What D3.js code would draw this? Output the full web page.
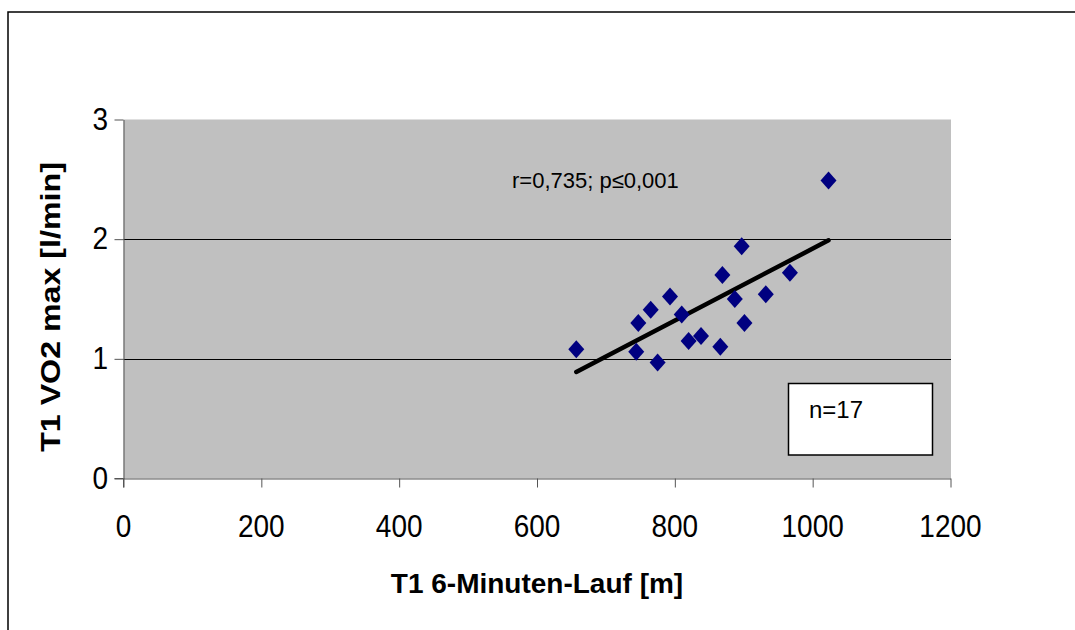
<!DOCTYPE html>
<html>
<head>
<meta charset="utf-8">
<script src="https://cdn.jsdelivr.net/npm/d3@7"></script>
<style>
  html, body { margin: 0; padding: 0; background: #fff; }
  svg { display: block; }
  text { font-family: "Liberation Sans", Arial, sans-serif; fill: #000; }
</style>
</head>
<body>
<svg id="chart" width="1075" height="630"></svg>
<script>
// 6-minute run distance (m) vs. VO2 max (l/min), first test
const runDistance = [657, 744, 747, 765, 775, 793, 810, 820, 838, 866, 869, 887, 897, 901, 932, 967, 1023];
const vo2max      = [1.08, 1.06, 1.30, 1.41, 0.97, 1.52, 1.37, 1.15, 1.19, 1.10, 1.70, 1.50, 1.94, 1.30, 1.54, 1.72, 2.49];

// fitted regression line, drawn between the smallest and largest distance
const trendX = [657, 1023];
const trendY = [0.89, 1.99];

const xTicks = [0, 200, 400, 600, 800, 1000, 1200];
const yTicks = [0, 1, 2, 3];
const gridValues = [1, 2];

const xTitle = "T1 6-Minuten-Lauf [m]";
const yTitle = "T1 VO2 max [l/min]";
const statsLabel = "r=0,735; p\u22640,001";
const nLabel = "n=17";

const svg = d3.select("#chart");
const plot = { left: 123.5, right: 951, top: 119.5, bottom: 478.5 };

const x = d3.scaleLinear().domain([0, 1200]).range([plot.left, 950.5]);
const y = d3.scaleLinear().domain([0, 3]).range([plot.bottom, plot.top]);

// outer frame (top and left edges)
svg.append("path")
  .attr("d", "M8,630 L8,12 L1075,12")
  .attr("fill", "none").attr("stroke", "#000").attr("stroke-width", 1.5);

// plot background
svg.append("rect")
  .attr("x", plot.left).attr("y", plot.top)
  .attr("width", plot.right - plot.left).attr("height", plot.bottom - plot.top)
  .attr("fill", "#c0c0c0");

// horizontal gridlines
svg.append("g").selectAll("line").data(gridValues).join("line")
  .attr("x1", plot.left).attr("x2", plot.right)
  .attr("y1", d => Math.round(y(d)) + 0.5).attr("y2", d => Math.round(y(d)) + 0.5)
  .attr("stroke", "#000").attr("stroke-width", 1);

// axes
const xAxis = svg.append("g")
  .attr("transform", `translate(0,${plot.bottom})`)
  .call(d3.axisBottom(x).tickValues(xTicks).tickSize(9).tickSizeOuter(0).tickFormat(""));
const yAxis = svg.append("g")
  .attr("transform", `translate(${plot.left},0)`)
  .call(d3.axisLeft(y).tickValues(yTicks).tickSize(9).tickSizeOuter(0).tickFormat(""));
[xAxis, yAxis].forEach(g => {
  g.select(".domain").attr("stroke", "#555");
  g.selectAll(".tick line").attr("stroke", "#555");
});
// extend axis lines past the crossing like the tick marks
svg.append("line").attr("x1", plot.left - 9).attr("x2", plot.left)
  .attr("y1", plot.bottom).attr("y2", plot.bottom).attr("stroke", "#555");
svg.append("line").attr("x1", plot.left).attr("x2", plot.left)
  .attr("y1", plot.bottom).attr("y2", plot.bottom + 9).attr("stroke", "#555");

// tick labels
svg.append("g").selectAll("text").data(xTicks).join("text")
  .attr("transform", d => `translate(${x(d)},537) scale(1,1.15)`)
  .attr("text-anchor", "middle")
  .attr("font-size", 28)
  .text(d => d);
svg.append("g").selectAll("text").data(yTicks).join("text")
  .attr("transform", d => `translate(108,${y(d) + 10}) scale(1,1.15)`)
  .attr("text-anchor", "end")
  .attr("font-size", 28)
  .text(d => d);

// axis titles
svg.append("text")
  .attr("x", 537).attr("y", 593)
  .attr("text-anchor", "middle")
  .attr("font-size", 28).attr("font-weight", "bold")
  .text(xTitle);
svg.append("text")
  .attr("transform", "translate(60,307) rotate(-90) scale(1.15,1)")
  .attr("text-anchor", "middle")
  .attr("font-size", 28).attr("font-weight", "bold")
  .text(yTitle);

// regression line
svg.append("line")
  .attr("x1", x(trendX[0])).attr("y1", y(trendY[0]))
  .attr("x2", x(trendX[1])).attr("y2", y(trendY[1]))
  .attr("stroke", "#000").attr("stroke-width", 4.5).attr("stroke-linecap", "round");

// data points as diamonds
const diamond = "M0,-9 L8,0 L0,9 L-8,0 Z";
svg.append("g").selectAll("path").data(runDistance).join("path")
  .attr("d", diamond)
  .attr("transform", (d, i) => `translate(${x(d)},${y(vo2max[i])})`)
  .attr("fill", "#000080");

// correlation annotation
svg.append("text")
  .attr("x", 512).attr("y", 188)
  .attr("font-size", 22)
  .text(statsLabel);

// sample size box
svg.append("rect")
  .attr("x", 788.5).attr("y", 383.5).attr("width", 144).attr("height", 71.5)
  .attr("fill", "#fff").attr("stroke", "#000").attr("stroke-width", 1.5);
svg.append("text")
  .attr("x", 809).attr("y", 418)
  .attr("font-size", 24)
  .text(nLabel);
</script>
</body>
</html>
